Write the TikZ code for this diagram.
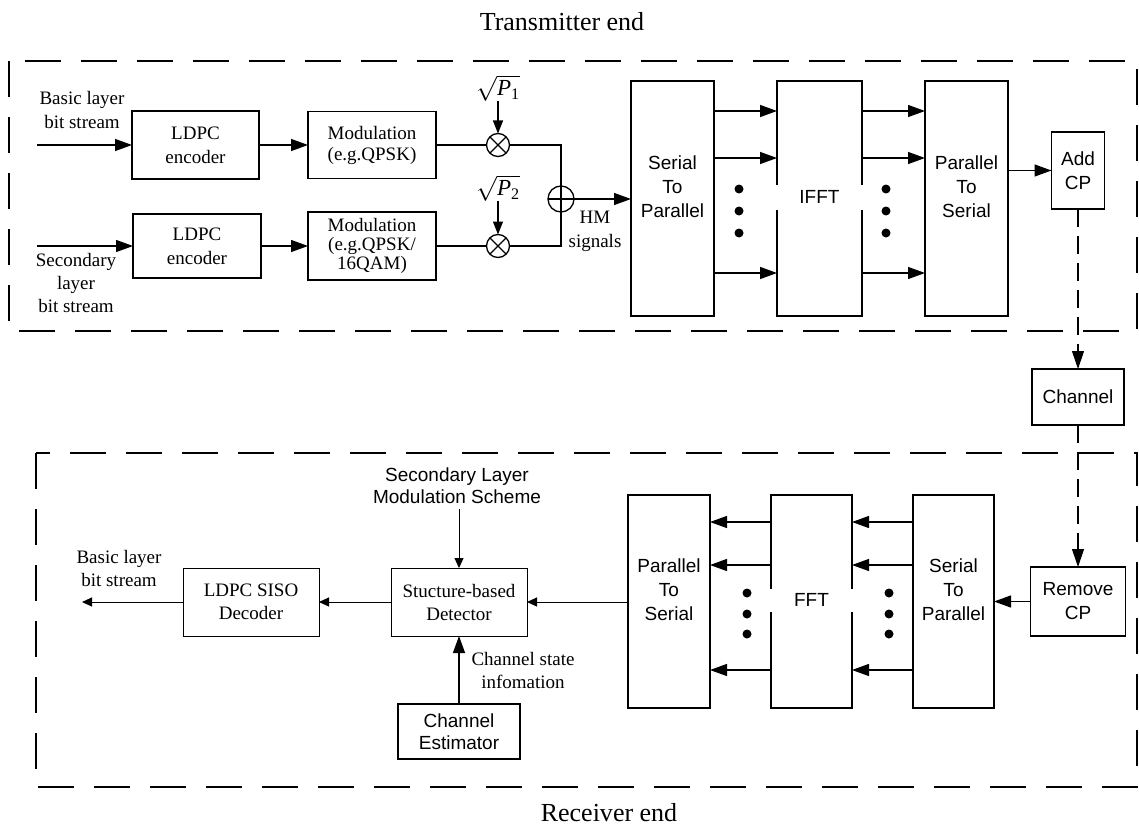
\documentclass[tikz,border=0pt]{standalone}
\usepackage{amsmath}
\usepackage{fontspec}
\setmainfont{Liberation Serif}
\newfontfamily\arialfont{Liberation Sans}
\usetikzlibrary{arrows.meta}

\begin{document}
\begin{tikzpicture}[x=1pt,y=-1pt,
  every node/.style={inner sep=0pt, outer sep=0pt},
  serif/.style={font=\fontsize{19}{24}\selectfont, align=center},
  sans/.style={font=\arialfont\fontsize{19}{24}\selectfont, align=center},
  ttl/.style={font=\fontsize{26}{30}\selectfont},
  blk/.style={draw, line width=1.3pt},
  thinblk/.style={draw, line width=1pt},
  wire/.style={line width=1.3pt},
  arr/.style={line width=1.3pt, -{Triangle[length=17pt,width=12pt]}},
  parr/.style={line width=1.3pt, -{Triangle[length=13pt,width=10pt]}},
  sarr/.style={line width=1pt, -{Triangle[length=10pt,width=9pt]}},
  dasharr/.style={line width=1.1pt, dash pattern=on 18pt off 9pt, -{Triangle[length=18pt,width=12pt]}},
  endframe/.style={line width=2.6pt, dash pattern=on 36pt off 20pt},
  op/.style={draw, circle, line width=1.3pt},
]
\useasboundingbox (0,0) rectangle (1139,829);

% section titles and dashed frames
\node[ttl] (txtitle) at (562,22) {Transmitter end};
\node[ttl] (rxtitle) at (609,813) {Receiver end};
\draw[endframe] (9,61) rectangle (1137,331);
\draw[endframe] (36,453) rectangle (1137,787);

% ---------------- transmitter ----------------
\node[serif] (basicin) at (82,110) {Basic layer\\bit stream};
\node[serif, font=\fontsize{19}{23}\selectfont] (secin) at (76,283) {Secondary\\layer\\bit stream};
\coordinate (bsrc) at (37,145);
\coordinate (ssrc) at (37,246);

\node[blk, serif, minimum width=127pt, minimum height=68pt] (enc1) at (195.5,145) {LDPC\\encoder};
\node[blk, serif, minimum width=128pt, minimum height=64pt] (enc2) at (197,246) {LDPC\\encoder};
\node[blk, serif, font=\fontsize{19}{21}\selectfont, minimum width=128pt, minimum height=67pt] (mod1) at (372,145) {Modulation\\(e.g.QPSK)};
\node[blk, serif, font=\fontsize{19}{19}\selectfont, minimum width=128pt, minimum height=68pt] (mod2) at (372,246) {Modulation\\(e.g.QPSK/\\16QAM)};

\draw[arr] (bsrc) -- (enc1.west);
\draw[arr] (ssrc) -- (enc2.west);
\draw[arr] (enc1.east) -- (mod1.west);
\draw[arr] (enc2.east) -- (mod2.west);

% power scaling and superposition
\node[op, minimum size=23pt] (m1) at (498,145) {};
\node[op, minimum size=23pt] (m2) at (498,246) {};
\draw[line width=1.3pt] (m1.north west) -- (m1.south east) (m1.north east) -- (m1.south west);
\draw[line width=1.3pt] (m2.north west) -- (m2.south east) (m2.north east) -- (m2.south west);
\node[serif, font=\fontsize{23}{26}\selectfont] (p1) at (498,88) {$\sqrt{\textit{P}_{\text{1}}}$};
\node[serif, font=\fontsize{23}{26}\selectfont] (p2) at (498,188) {$\sqrt{\textit{P}_{\text{2}}}$};
\draw[parr] (p1.south) -- (m1.north);
\draw[parr] (p2.south) -- (m2.north);
\draw[wire] (mod1.east) -- (m1.west);
\draw[wire] (mod2.east) -- (m2.west);

\node[op, minimum size=26pt] (add) at (561,199) {};
\draw[wire] (m1.east) -| (add.north);
\draw[wire] (m2.east) -| (add.south);
\draw[wire] (add.north) -- (add.south) (add.west) -- (add.east);
\node[serif] (hm) at (595,231) {HM\\signals};

% OFDM modulation chain
\node[blk, minimum width=83pt, minimum height=235pt] (sp1) at (672.5,198.5) {};
\node[blk, minimum width=85pt, minimum height=235pt] (ifft) at (819.5,198.5) {};
\node[blk, minimum width=83pt, minimum height=235pt] (ps1) at (966.5,198.5) {};
\node[sans] (sp1t) at ([yshift=12pt]sp1.center) {Serial\\To\\Parallel};
\node[sans, fill=white, minimum width=93pt, minimum height=25pt] (iffttext) at (819.5,197) {IFFT};
\node[sans] (ps1t) at ([yshift=12pt]ps1.center) {Parallel\\To\\Serial};

\draw[arr] (add.east) -- (sp1.west |- add.east);

\coordinate (ta) at (0,111);
\coordinate (tb) at (0,158);
\coordinate (tc) at (0,273);
\foreach \r in {ta,tb,tc} {
  \draw[arr] (sp1.east |- \r) -- (ifft.west |- \r);
  \draw[arr] (ifft.east |- \r) -- (ps1.west |- \r);
}
\foreach \yy in {189,211,233} {
  \fill (739,\yy) circle (4.5pt);
  \fill (886,\yy) circle (4.5pt);
}

\node[blk, sans, minimum width=53pt, minimum height=77pt] (addcp) at (1078,170.5) {Add\\CP};
\draw[arr] (ps1.east |- addcp.west) -- (addcp.west);

% ---------------- channel ----------------
\node[blk, sans, minimum width=92pt, minimum height=56pt] (chan) at (1078,397) {Channel};
\draw[dasharr] (addcp.south) -- (chan.north);

% ---------------- receiver ----------------
\node[blk, sans, minimum width=95pt, minimum height=69pt] (rmcp) at (1078,601.5) {Remove\\CP};
\draw[dasharr] (chan.south) -- (rmcp.north);

\node[blk, minimum width=81pt, minimum height=213pt] (sp2) at (953.5,601.5) {};
\node[blk, minimum width=81pt, minimum height=213pt] (fft) at (811.5,601.5) {};
\node[blk, minimum width=82pt, minimum height=213pt] (ps2) at (669,601.5) {};
\node[sans] (sp2t) at ([yshift=11.5pt]sp2.center) {Serial\\To\\Parallel};
\node[sans, fill=white, minimum width=89pt, minimum height=23pt] (ffttext) at (811.5,600) {FFT};
\node[sans] (ps2t) at ([yshift=11.5pt]ps2.center) {Parallel\\To\\Serial};

\draw[arr] (rmcp.west) -- (sp2.east |- rmcp.west);

\coordinate (ra) at (0,522);
\coordinate (rb) at (0,565);
\coordinate (rc) at (0,670);
\foreach \r in {ra,rb,rc} {
  \draw[arr] (sp2.west |- \r) -- (fft.east |- \r);
  \draw[arr] (fft.west |- \r) -- (ps2.east |- \r);
}
\foreach \yy in {593,614,634} {
  \fill (747,\yy) circle (4.5pt);
  \fill (889,\yy) circle (4.5pt);
}

% detection and decoding
\node[thinblk, serif, font=\fontsize{19}{23}\selectfont, minimum width=136pt, minimum height=68pt] (det) at (459,602) {Stucture-based\\Detector};
\node[thinblk, serif, font=\fontsize{19}{23}\selectfont, minimum width=136pt, minimum height=68pt] (siso) at (251,602) {LDPC SISO\\Decoder};
\node[blk, sans, font=\arialfont\fontsize{19}{22}\selectfont, minimum width=122pt, minimum height=55pt] (est) at (459,731.5) {Channel\\Estimator};
\node[sans, font=\arialfont\fontsize{19}{22}\selectfont] (slm) at (457,486) {Secondary Layer\\Modulation Scheme};
\node[serif, font=\fontsize{19}{23}\selectfont] (csi) at (523,670.5) {Channel state\\infomation};
\node[serif, font=\fontsize{19}{23}\selectfont] (basicout) at (119,568.5) {Basic layer\\bit stream};
\coordinate (bout) at (82,602);

\draw[sarr] (ps2.west |- det.east) -- (det.east);
\draw[sarr] (det.west) -- (siso.east);
\draw[sarr] (siso.west) -- (bout);
\draw[sarr] (det.north |- slm.south) ++(0,5) -- (det.north);
\draw[arr] (est.north) -- (det.south);
\end{tikzpicture}
\end{document}
